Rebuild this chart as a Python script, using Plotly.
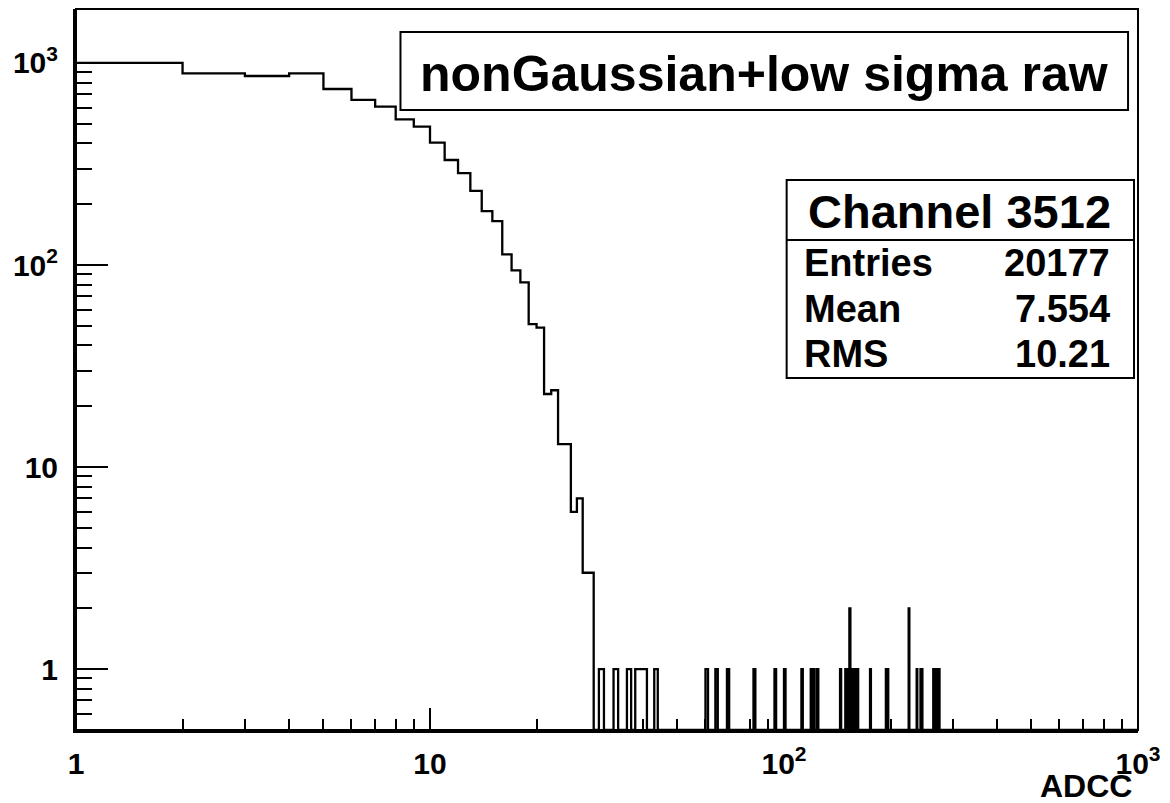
import numpy as np
import plotly.graph_objects as go

# ---- data: histogram of ADC counts, bins of width 1 (bin low edge -> count)
low_bins = list(range(1, 29))
low_counts = [1000, 889, 862, 889, 743, 656, 608, 526, 484, 403, 331, 285, 233, 185,
              165, 113, 94, 82, 51, 49, 23, 24, 13, 13, 6, 7, 3, 3]
tail_bins = [30, 33, 36, 38, 39, 40, 43, 60, 64, 69, 82, 94, 100, 112, 119, 121, 124, 144,
             149, 151, 153, 155, 157, 159, 161,
             175, 194, 196, 225, 237, 243, 245,
             264, 266, 268, 270, 272, 274]
tail_counts = [1, 1, 1, 1, 1, 1, 1, 1, 1, 1, 1, 1, 1, 1, 1, 1, 1, 1,
               1, 1, 2, 1, 1, 1, 1,
               1, 1, 1, 2, 1, 1, 1,
               1, 1, 1, 1, 1, 1]

x_tickvals = [1, 10, 100, 1000]
x_ticktext = ["1", "10", "10<sup>2</sup>", "10<sup>3</sup>"]
y_tickvals = [1, 10, 100, 1000]
y_ticktext = ["1", "10", "10<sup>2</sup>", "10<sup>3</sup>"]
x_minor = [m * d for d in (1, 10, 100) for m in range(2, 10)]
y_minor = [0.6, 0.7, 0.8, 0.9] + [m * d for d in (1, 10, 100) for m in range(2, 10)]

stats_title = "Channel 3512"
stats_labels = ["Entries", "Mean", "RMS"]
stats_values = ["20177", "7.554", "10.21"]
hist_title = "nonGaussian+low sigma raw"
x_title = "ADCC"

# ---- build full histogram (bins 1..999)
y_min = 0.5
nbins = 999
counts = np.zeros(nbins)
for b, c in zip(low_bins, low_counts):
    counts[b - 1] = c
for b, c in zip(tail_bins, tail_counts):
    counts[b - 1] = c
lo = np.arange(1, nbins + 1, dtype=float)
hi = lo + 1
vals = np.where(counts > 0, counts, y_min)
xs = np.column_stack([lo, hi]).ravel()
ys = np.column_stack([vals, vals]).ravel()

FONT = "Liberation Sans, Arial, Helvetica, sans-serif"

fig = go.Figure()
fig.add_trace(go.Scatter(x=xs, y=ys, mode="lines",
                         line=dict(color="black", width=2.3), hoverinfo="skip",
                         showlegend=False))

W, H = 1170, 803
L, R, T, B = 76, 27, 9, 73
pw, ph = W - L - R, H - T - B


def px(xp):
    return (xp - L) / pw


def py(yp):
    return (H - B - yp) / ph


fig.update_layout(
    width=W, height=H,
    margin=dict(l=L, r=R, t=T, b=B),
    paper_bgcolor="white", plot_bgcolor="white",
    showlegend=False,
    xaxis=dict(type="log", range=[0, 3], showgrid=False, zeroline=False,
               showline=True, linecolor="black", linewidth=3,
               tickmode="array", tickvals=x_tickvals, ticktext=x_ticktext,
               ticks="inside", ticklen=22, tickwidth=2, tickcolor="black",
               ticklabelstandoff=5,
               tickfont=dict(family=FONT, size=30, color="black", weight="bold"),
               minor=dict(tickmode="array", tickvals=x_minor, ticks="inside",
                          ticklen=11, tickwidth=2, tickcolor="black", showgrid=False)),
    yaxis=dict(type="log", range=[np.log10(y_min), 3.267], showgrid=False, zeroline=False,
               showline=True, linecolor="black", linewidth=3,
               tickmode="array", tickvals=y_tickvals, ticktext=y_ticktext,
               ticks="inside", ticklen=32, tickwidth=2, tickcolor="black",
               ticklabelstandoff=9,
               tickfont=dict(family=FONT, size=30, color="black", weight="bold"),
               minor=dict(tickmode="array", tickvals=y_minor, ticks="inside",
                          ticklen=16, tickwidth=2, tickcolor="black", showgrid=False)),
)

shapes = [
    dict(type="rect", xref="paper", yref="paper", x0=0, x1=1, y0=0, y1=1,
         line=dict(color="black", width=2)),
    # title box
    dict(type="rect", xref="paper", yref="paper", x0=px(402), x1=px(1133),
         y0=py(110), y1=py(32), line=dict(color="black", width=2), fillcolor="white"),
    # stats box
    dict(type="rect", xref="paper", yref="paper", x0=px(790), x1=px(1139),
         y0=py(378), y1=py(180), line=dict(color="black", width=2), fillcolor="white"),
    dict(type="line", xref="paper", yref="paper", x0=px(790), x1=px(1139),
         y0=py(240), y1=py(240), line=dict(color="black", width=2)),
]
fig.update_layout(shapes=shapes)

ann = []
ann.append(dict(text="<b>%s</b>" % hist_title, xref="paper", yref="paper",
                x=px(767.5), y=py(74), xanchor="center", yanchor="middle", showarrow=False,
                font=dict(family=FONT, size=50, color="black")))
ann.append(dict(text="<b>%s</b>" % stats_title, xref="paper", yref="paper",
                x=px(964), y=py(211), xanchor="center", yanchor="middle", showarrow=False,
                font=dict(family=FONT, size=47, color="black")))
row_y = [263, 309, 354]
for lab, val, yy in zip(stats_labels, stats_values, row_y):
    ann.append(dict(text="<b>%s</b>" % lab, xref="paper", yref="paper",
                    x=px(805), y=py(yy), xanchor="left", yanchor="middle", showarrow=False,
                    font=dict(family=FONT, size=38, color="black")))
    ann.append(dict(text="<b>%s</b>" % val, xref="paper", yref="paper",
                    x=px(1117), y=py(yy), xanchor="right", yanchor="middle", showarrow=False,
                    font=dict(family=FONT, size=38, color="black")))
ann.append(dict(text="<b>%s</b>" % x_title, xref="paper", yref="paper",
                x=px(1139), y=py(786), xanchor="right", yanchor="middle", showarrow=False,
                font=dict(family=FONT, size=32, color="black")))
fig.update_layout(annotations=ann)

fig.write_html("out.html")
